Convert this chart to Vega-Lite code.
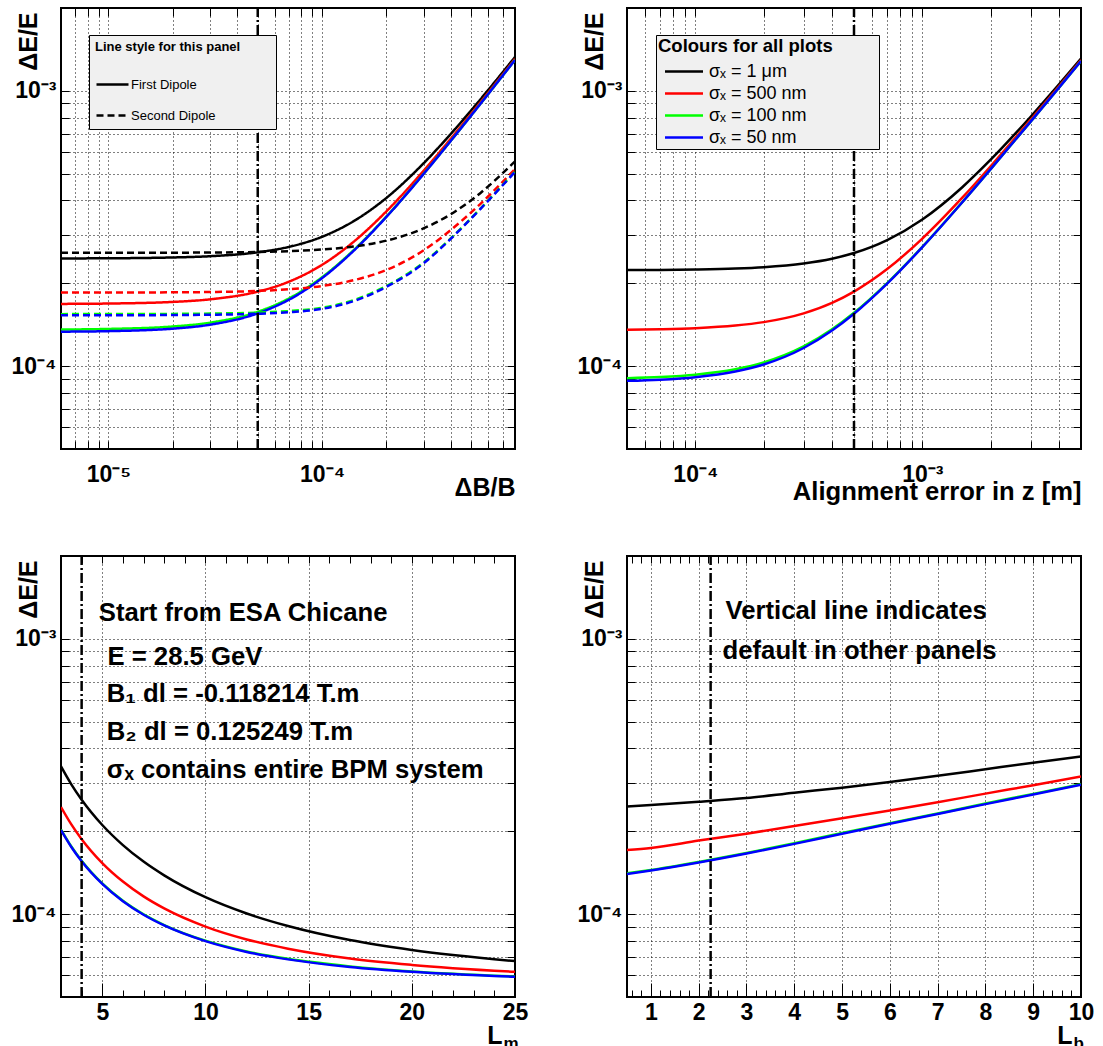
{
  "$schema": "https://vega.github.io/schema/vega-lite/v6.json",
  "background": "white",
  "padding": {"left": 10, "top": 5, "right": 0, "bottom": 0},
  "config": {
    "font": "Liberation Sans",
    "view": {"stroke": "black", "strokeWidth": 2},
    "axis": {"domain": false, "gridColor": "black", "gridDash": [1, 3], "gridOpacity": 1, "gridWidth": 1, "tickColor": "black", "tickWidth": 1, "labelFont": "Liberation Sans", "labelFontWeight": "bold", "labelFontSize": 23, "labelColor": "black", "titleFont": "Liberation Sans", "titleFontWeight": "bold", "titleFontSize": 25, "titleColor": "black", "labelOverlap": false, "labelFlush": false},
    "scale": {"nice": false},
    "line": {"strokeWidth": 2.5, "interpolate": "monotone"},
    "text": {"font": "Liberation Sans", "fontWeight": "bold", "fontSize": 25.7, "color": "black", "align": "left", "baseline": "middle"}
  },
  "columns": 2,
  "spacing": {"row": 107, "column": 112},
  "bounds": "flush",
  "resolve": {"scale": {"x": "independent", "y": "independent", "color": "independent", "strokeDash": "independent"}, "legend": {"color": "independent", "strokeDash": "independent"}},
  "concat": [
    {
      "width": 454, "height": 441,
      "resolve": {"axis": {"x": "independent", "y": "independent"}},
      "layer": [
        {
          "data": {"values": [
            {"x": 6e-6, "y": 2.462e-4, "c": "1 μm", "d": "First Dipole"},
            {"x": 1e-5, "y": 2.465e-4, "c": "1 μm", "d": "First Dipole"},
            {"x": 2e-5, "y": 2.482e-4, "c": "1 μm", "d": "First Dipole"},
            {"x": 3e-5, "y": 2.508e-4, "c": "1 μm", "d": "First Dipole"},
            {"x": 5e-5, "y": 2.592e-4, "c": "1 μm", "d": "First Dipole"},
            {"x": 7e-5, "y": 2.712e-4, "c": "1 μm", "d": "First Dipole"},
            {"x": 1e-4, "y": 2.951e-4, "c": "1 μm", "d": "First Dipole"},
            {"x": 1.4e-4, "y": 3.356e-4, "c": "1 μm", "d": "First Dipole"},
            {"x": 2e-4, "y": 4.084e-4, "c": "1 μm", "d": "First Dipole"},
            {"x": 3e-4, "y": 5.474e-4, "c": "1 μm", "d": "First Dipole"},
            {"x": 4e-4, "y": 6.969e-4, "c": "1 μm", "d": "First Dipole"},
            {"x": 5.5e-4, "y": 9.296e-4, "c": "1 μm", "d": "First Dipole"},
            {"x": 8e-4, "y": 1.327e-3, "c": "1 μm", "d": "First Dipole"},
            {"x": 6e-6, "y": 1.683e-4, "c": "500 nm", "d": "First Dipole"},
            {"x": 1e-5, "y": 1.688e-4, "c": "500 nm", "d": "First Dipole"},
            {"x": 2e-5, "y": 1.711e-4, "c": "500 nm", "d": "First Dipole"},
            {"x": 3e-5, "y": 1.749e-4, "c": "500 nm", "d": "First Dipole"},
            {"x": 5e-5, "y": 1.865e-4, "c": "500 nm", "d": "First Dipole"},
            {"x": 7e-5, "y": 2.027e-4, "c": "500 nm", "d": "First Dipole"},
            {"x": 1e-4, "y": 2.334e-4, "c": "500 nm", "d": "First Dipole"},
            {"x": 1.4e-4, "y": 2.823e-4, "c": "500 nm", "d": "First Dipole"},
            {"x": 2e-4, "y": 3.650e-4, "c": "500 nm", "d": "First Dipole"},
            {"x": 3e-4, "y": 5.142e-4, "c": "500 nm", "d": "First Dipole"},
            {"x": 4e-4, "y": 6.694e-4, "c": "500 nm", "d": "First Dipole"},
            {"x": 5.5e-4, "y": 9.067e-4, "c": "500 nm", "d": "First Dipole"},
            {"x": 8e-4, "y": 1.3068e-3, "c": "500 nm", "d": "First Dipole"},
            {"x": 6e-6, "y": 1.358e-4, "c": "100 nm", "d": "First Dipole"},
            {"x": 1e-5, "y": 1.365e-4, "c": "100 nm", "d": "First Dipole"},
            {"x": 2e-5, "y": 1.393e-4, "c": "100 nm", "d": "First Dipole"},
            {"x": 3e-5, "y": 1.439e-4, "c": "100 nm", "d": "First Dipole"},
            {"x": 5e-5, "y": 1.576e-4, "c": "100 nm", "d": "First Dipole"},
            {"x": 7e-5, "y": 1.762e-4, "c": "100 nm", "d": "First Dipole"},
            {"x": 1e-4, "y": 2.104e-4, "c": "100 nm", "d": "First Dipole"},
            {"x": 1.4e-4, "y": 2.630e-4, "c": "100 nm", "d": "First Dipole"},
            {"x": 2e-4, "y": 3.494e-4, "c": "100 nm", "d": "First Dipole"},
            {"x": 3e-4, "y": 5.017e-4, "c": "100 nm", "d": "First Dipole"},
            {"x": 4e-4, "y": 6.581e-4, "c": "100 nm", "d": "First Dipole"},
            {"x": 5.5e-4, "y": 8.958e-4, "c": "100 nm", "d": "First Dipole"},
            {"x": 8e-4, "y": 1.2951e-3, "c": "100 nm", "d": "First Dipole"},
            {"x": 6e-6, "y": 1.334e-4, "c": "50 nm", "d": "First Dipole"},
            {"x": 1e-5, "y": 1.340e-4, "c": "50 nm", "d": "First Dipole"},
            {"x": 2e-5, "y": 1.368e-4, "c": "50 nm", "d": "First Dipole"},
            {"x": 3e-5, "y": 1.415e-4, "c": "50 nm", "d": "First Dipole"},
            {"x": 5e-5, "y": 1.555e-4, "c": "50 nm", "d": "First Dipole"},
            {"x": 7e-5, "y": 1.743e-4, "c": "50 nm", "d": "First Dipole"},
            {"x": 1e-4, "y": 2.088e-4, "c": "50 nm", "d": "First Dipole"},
            {"x": 1.4e-4, "y": 2.617e-4, "c": "50 nm", "d": "First Dipole"},
            {"x": 2e-4, "y": 3.484e-4, "c": "50 nm", "d": "First Dipole"},
            {"x": 3e-4, "y": 5.010e-4, "c": "50 nm", "d": "First Dipole"},
            {"x": 4e-4, "y": 6.576e-4, "c": "50 nm", "d": "First Dipole"},
            {"x": 5.5e-4, "y": 8.954e-4, "c": "50 nm", "d": "First Dipole"},
            {"x": 8e-4, "y": 1.2949e-3, "c": "50 nm", "d": "First Dipole"},
            {"x": 6e-6, "y": 2.580e-4, "c": "1 μm", "d": "Second Dipole"},
            {"x": 1e-5, "y": 2.581e-4, "c": "1 μm", "d": "Second Dipole"},
            {"x": 2e-5, "y": 2.583e-4, "c": "1 μm", "d": "Second Dipole"},
            {"x": 3e-5, "y": 2.587e-4, "c": "1 μm", "d": "Second Dipole"},
            {"x": 5e-5, "y": 2.598e-4, "c": "1 μm", "d": "Second Dipole"},
            {"x": 7e-5, "y": 2.616e-4, "c": "1 μm", "d": "Second Dipole"},
            {"x": 1e-4, "y": 2.652e-4, "c": "1 μm", "d": "Second Dipole"},
            {"x": 1.4e-4, "y": 2.719e-4, "c": "1 μm", "d": "Second Dipole"},
            {"x": 2e-4, "y": 2.857e-4, "c": "1 μm", "d": "Second Dipole"},
            {"x": 3e-4, "y": 3.170e-4, "c": "1 μm", "d": "Second Dipole"},
            {"x": 4e-4, "y": 3.562e-4, "c": "1 μm", "d": "Second Dipole"},
            {"x": 5.5e-4, "y": 4.250e-4, "c": "1 μm", "d": "Second Dipole"},
            {"x": 8e-4, "y": 5.548e-4, "c": "1 μm", "d": "Second Dipole"},
            {"x": 6e-6, "y": 1.850e-4, "c": "500 nm", "d": "Second Dipole"},
            {"x": 1e-5, "y": 1.851e-4, "c": "500 nm", "d": "Second Dipole"},
            {"x": 2e-5, "y": 1.854e-4, "c": "500 nm", "d": "Second Dipole"},
            {"x": 3e-5, "y": 1.859e-4, "c": "500 nm", "d": "Second Dipole"},
            {"x": 5e-5, "y": 1.876e-4, "c": "500 nm", "d": "Second Dipole"},
            {"x": 7e-5, "y": 1.902e-4, "c": "500 nm", "d": "Second Dipole"},
            {"x": 1e-4, "y": 1.955e-4, "c": "500 nm", "d": "Second Dipole"},
            {"x": 1.4e-4, "y": 2.050e-4, "c": "500 nm", "d": "Second Dipole"},
            {"x": 2e-4, "y": 2.235e-4, "c": "500 nm", "d": "Second Dipole"},
            {"x": 3e-4, "y": 2.640e-4, "c": "500 nm", "d": "Second Dipole"},
            {"x": 4e-4, "y": 3.120e-4, "c": "500 nm", "d": "Second Dipole"},
            {"x": 5.5e-4, "y": 3.880e-4, "c": "500 nm", "d": "Second Dipole"},
            {"x": 8e-4, "y": 5.200e-4, "c": "500 nm", "d": "Second Dipole"},
            {"x": 6e-6, "y": 1.545e-4, "c": "100 nm", "d": "Second Dipole"},
            {"x": 1e-5, "y": 1.546e-4, "c": "100 nm", "d": "Second Dipole"},
            {"x": 2e-5, "y": 1.548e-4, "c": "100 nm", "d": "Second Dipole"},
            {"x": 3e-5, "y": 1.552e-4, "c": "100 nm", "d": "Second Dipole"},
            {"x": 5e-5, "y": 1.565e-4, "c": "100 nm", "d": "Second Dipole"},
            {"x": 7e-5, "y": 1.585e-4, "c": "100 nm", "d": "Second Dipole"},
            {"x": 1e-4, "y": 1.630e-4, "c": "100 nm", "d": "Second Dipole"},
            {"x": 1.4e-4, "y": 1.735e-4, "c": "100 nm", "d": "Second Dipole"},
            {"x": 2e-4, "y": 1.955e-4, "c": "100 nm", "d": "Second Dipole"},
            {"x": 3e-4, "y": 2.385e-4, "c": "100 nm", "d": "Second Dipole"},
            {"x": 4e-4, "y": 2.910e-4, "c": "100 nm", "d": "Second Dipole"},
            {"x": 5.5e-4, "y": 3.730e-4, "c": "100 nm", "d": "Second Dipole"},
            {"x": 8e-4, "y": 5.090e-4, "c": "100 nm", "d": "Second Dipole"},
            {"x": 6e-6, "y": 1.530e-4, "c": "50 nm", "d": "Second Dipole"},
            {"x": 1e-5, "y": 1.531e-4, "c": "50 nm", "d": "Second Dipole"},
            {"x": 2e-5, "y": 1.533e-4, "c": "50 nm", "d": "Second Dipole"},
            {"x": 3e-5, "y": 1.537e-4, "c": "50 nm", "d": "Second Dipole"},
            {"x": 5e-5, "y": 1.550e-4, "c": "50 nm", "d": "Second Dipole"},
            {"x": 7e-5, "y": 1.570e-4, "c": "50 nm", "d": "Second Dipole"},
            {"x": 1e-4, "y": 1.615e-4, "c": "50 nm", "d": "Second Dipole"},
            {"x": 1.4e-4, "y": 1.720e-4, "c": "50 nm", "d": "Second Dipole"},
            {"x": 2e-4, "y": 1.940e-4, "c": "50 nm", "d": "Second Dipole"},
            {"x": 3e-4, "y": 2.370e-4, "c": "50 nm", "d": "Second Dipole"},
            {"x": 4e-4, "y": 2.900e-4, "c": "50 nm", "d": "Second Dipole"},
            {"x": 5.5e-4, "y": 3.720e-4, "c": "50 nm", "d": "Second Dipole"},
            {"x": 8e-4, "y": 5.080e-4, "c": "50 nm", "d": "Second Dipole"}
          ]},
          "mark": {"type": "line", "clip": true},
          "encoding": {
            "x": {"field": "x", "type": "quantitative", "scale": {"type": "log", "domain": [6e-6, 8e-4], "nice": false},
              "axis": {"orient": "bottom", "values": [6e-6, 7e-6, 8e-6, 9e-6, 1e-5, 2e-5, 3e-5, 4e-5, 5e-5, 6e-5, 7e-5, 8e-5, 9e-5, 1e-4, 2e-4, 3e-4, 4e-4, 5e-4, 6e-4, 7e-4],
                "labelExpr": "datum.value == 1e-5 ? '10⁻⁵' : datum.value == 1e-4 ? '10⁻⁴' : ''",
                "grid": true, "tickSize": -8, "labelPadding": 22,
                "title": "ΔB/B", "titleX": 454, "titleY": 46, "titleAlign": "right", "titleBaseline": "alphabetic"}},
            "y": {"field": "y", "type": "quantitative", "scale": {"type": "log", "domain": [5e-5, 2e-3], "nice": false},
              "axis": {"orient": "left", "values": [6e-5, 7e-5, 8e-5, 9e-5, 1e-4, 2e-4, 3e-4, 4e-4, 5e-4, 6e-4, 7e-4, 8e-4, 9e-4, 1e-3],
                "labelExpr": "datum.value == 1e-3 ? '10⁻³' : datum.value == 1e-4 ? '10⁻⁴' : ''",
                "grid": true, "tickSize": -8, "labelPadding": 13,
                "title": "ΔE/E", "titleX": -33, "titleY": 4, "titleAngle": -90, "titleAlign": "right", "titleBaseline": "middle"}},
            "color": {"field": "c", "type": "nominal", "scale": {"domain": ["1 μm", "500 nm", "100 nm", "50 nm"], "range": ["#000000", "#ff0000", "#00ff00", "#0000ff"]}, "legend": null},
            "strokeDash": {"field": "d", "type": "nominal", "scale": {"domain": ["First Dipole", "Second Dipole"], "range": [[1, 0], [7, 4]]},
              "legend": {"title": "Line style for this panel", "orient": "none", "legendX": 28, "legendY": 27,
                "fillColor": "#f0f0f0", "strokeColor": "black", "padding": 6,
                "titleFont": "Liberation Sans", "titleFontWeight": "bold", "titleFontSize": 13, "titleColor": "black", "titlePadding": 21,
                "labelFont": "Liberation Sans", "labelFontSize": 13, "labelColor": "black", "labelLimit": 400,
                "labelExpr": "datum.label + '\u00a0\u00a0\u00a0\u00a0\u00a0\u00a0\u00a0\u00a0\u00a0\u00a0\u00a0\u00a0\u00a0\u00a0\u00a0\u200b'",
                "symbolType": "M-2,0H2", "symbolSize": 256, "symbolStrokeWidth": 2.5, "symbolStrokeColor": "black", "symbolFillColor": "transparent",
                "symbolOffset": 8, "labelOffset": 9, "rowPadding": 14,
                "encode": {"legend": {"update": {"strokeWidth": {"value": 1.5}}}}}}
          }
        },
        {
          "data": {"values": [{"xv": 5e-5}]},
          "mark": {"type": "rule", "strokeDash": [10, 3, 2, 3], "strokeWidth": 2.5, "color": "black"},
          "encoding": {
            "x": {"field": "xv", "type": "quantitative", "axis": {"orient": "top", "values": [6e-6, 7e-6, 8e-6, 9e-6, 1e-5, 2e-5, 3e-5, 4e-5, 5e-5, 6e-5, 7e-5, 8e-5, 9e-5, 1e-4, 2e-4, 3e-4, 4e-4, 5e-4, 6e-4, 7e-4], "labels": false, "grid": false, "tickSize": -8, "title": null}},
            "y": {"datum": 5e-5, "type": "quantitative", "axis": {"orient": "right", "values": [6e-5, 7e-5, 8e-5, 9e-5, 1e-4, 2e-4, 3e-4, 4e-4, 5e-4, 6e-4, 7e-4, 8e-4, 9e-4, 1e-3], "labels": false, "grid": false, "tickSize": -8, "title": null}},
            "y2": {"datum": 2e-3}
          }
        }
      ]
    },
    {
      "width": 454, "height": 441,
      "resolve": {"axis": {"x": "independent", "y": "independent"}},
      "layer": [
        {
          "data": {"values": [
            {"x": 5e-5, "y": 2.234e-4, "c": "1 μm"}, {"x": 7e-5, "y": 2.237e-4, "c": "1 μm"}, {"x": 1e-4, "y": 2.245e-4, "c": "1 μm"}, {"x": 1.5e-4, "y": 2.263e-4, "c": "1 μm"}, {"x": 2e-4, "y": 2.289e-4, "c": "1 μm"}, {"x": 3e-4, "y": 2.361e-4, "c": "1 μm"}, {"x": 4e-4, "y": 2.457e-4, "c": "1 μm"}, {"x": 5e-4, "y": 2.576e-4, "c": "1 μm"}, {"x": 7e-4, "y": 2.870e-4, "c": "1 μm"}, {"x": 1e-3, "y": 3.410e-4, "c": "1 μm"}, {"x": 1.5e-3, "y": 4.467e-4, "c": "1 μm"}, {"x": 2e-3, "y": 5.621e-4, "c": "1 μm"}, {"x": 3e-3, "y": 8.055e-4, "c": "1 μm"}, {"x": 4e-3, "y": 1.0558e-3, "c": "1 μm"}, {"x": 5e-3, "y": 1.3091e-3, "c": "1 μm"},
            {"x": 5e-5, "y": 1.356e-4, "c": "500 nm"}, {"x": 7e-5, "y": 1.362e-4, "c": "500 nm"}, {"x": 1e-4, "y": 1.374e-4, "c": "500 nm"}, {"x": 1.5e-4, "y": 1.404e-4, "c": "500 nm"}, {"x": 2e-4, "y": 1.445e-4, "c": "500 nm"}, {"x": 3e-4, "y": 1.555e-4, "c": "500 nm"}, {"x": 4e-4, "y": 1.698e-4, "c": "500 nm"}, {"x": 5e-4, "y": 1.866e-4, "c": "500 nm"}, {"x": 7e-4, "y": 2.252e-4, "c": "500 nm"}, {"x": 1e-3, "y": 2.907e-4, "c": "500 nm"}, {"x": 1.5e-3, "y": 4.092e-4, "c": "500 nm"}, {"x": 2e-3, "y": 5.324e-4, "c": "500 nm"}, {"x": 3e-3, "y": 7.842e-4, "c": "500 nm"}, {"x": 4e-3, "y": 1.0388e-3, "c": "500 nm"}, {"x": 5e-3, "y": 1.2946e-3, "c": "500 nm"},
            {"x": 5e-5, "y": 9.04e-5, "c": "100 nm"}, {"x": 7e-5, "y": 9.13e-5, "c": "100 nm"}, {"x": 1e-4, "y": 9.31e-5, "c": "100 nm"}, {"x": 1.5e-4, "y": 9.74e-5, "c": "100 nm"}, {"x": 2e-4, "y": 1.031e-4, "c": "100 nm"}, {"x": 3e-4, "y": 1.179e-4, "c": "100 nm"}, {"x": 4e-4, "y": 1.360e-4, "c": "100 nm"}, {"x": 5e-4, "y": 1.562e-4, "c": "100 nm"}, {"x": 7e-4, "y": 2.003e-4, "c": "100 nm"}, {"x": 1e-3, "y": 2.712e-4, "c": "100 nm"}, {"x": 1.5e-3, "y": 3.943e-4, "c": "100 nm"}, {"x": 2e-3, "y": 5.198e-4, "c": "100 nm"}, {"x": 3e-3, "y": 7.732e-4, "c": "100 nm"}, {"x": 4e-3, "y": 1.0279e-3, "c": "100 nm"}, {"x": 5e-3, "y": 1.2831e-3, "c": "100 nm"},
            {"x": 5e-5, "y": 8.84e-5, "c": "50 nm"}, {"x": 7e-5, "y": 8.93e-5, "c": "50 nm"}, {"x": 1e-4, "y": 9.12e-5, "c": "50 nm"}, {"x": 1.5e-4, "y": 9.56e-5, "c": "50 nm"}, {"x": 2e-4, "y": 1.014e-4, "c": "50 nm"}, {"x": 3e-4, "y": 1.164e-4, "c": "50 nm"}, {"x": 4e-4, "y": 1.347e-4, "c": "50 nm"}, {"x": 5e-4, "y": 1.550e-4, "c": "50 nm"}, {"x": 7e-4, "y": 1.994e-4, "c": "50 nm"}, {"x": 1e-3, "y": 2.705e-4, "c": "50 nm"}, {"x": 1.5e-3, "y": 3.938e-4, "c": "50 nm"}, {"x": 2e-3, "y": 5.194e-4, "c": "50 nm"}, {"x": 3e-3, "y": 7.730e-4, "c": "50 nm"}, {"x": 4e-3, "y": 1.0277e-3, "c": "50 nm"}, {"x": 5e-3, "y": 1.2830e-3, "c": "50 nm"}
          ]},
          "mark": {"type": "line", "clip": true},
          "encoding": {
            "x": {"field": "x", "type": "quantitative", "scale": {"type": "log", "domain": [5e-5, 5e-3], "nice": false},
              "axis": {"orient": "bottom", "values": [6e-5, 7e-5, 8e-5, 9e-5, 1e-4, 2e-4, 3e-4, 4e-4, 5e-4, 6e-4, 7e-4, 8e-4, 9e-4, 1e-3, 2e-3, 3e-3, 4e-3],
                "labelExpr": "datum.value == 1e-4 ? '10⁻⁴' : datum.value == 1e-3 ? '10⁻³' : ''",
                "grid": true, "tickSize": -8, "labelPadding": 22,
                "title": "Alignment error in z [m]", "titleX": 454, "titleY": 50, "titleAlign": "right", "titleBaseline": "alphabetic", "titleFontSize": 25.6}},
            "y": {"field": "y", "type": "quantitative", "scale": {"type": "log", "domain": [5e-5, 2e-3], "nice": false},
              "axis": {"orient": "left", "values": [6e-5, 7e-5, 8e-5, 9e-5, 1e-4, 2e-4, 3e-4, 4e-4, 5e-4, 6e-4, 7e-4, 8e-4, 9e-4, 1e-3],
                "labelExpr": "datum.value == 1e-3 ? '10⁻³' : datum.value == 1e-4 ? '10⁻⁴' : ''",
                "grid": true, "tickSize": -8, "labelPadding": 13,
                "title": "ΔE/E", "titleX": -33, "titleY": 4, "titleAngle": -90, "titleAlign": "right", "titleBaseline": "middle"}},
            "color": {"field": "c", "type": "nominal", "scale": {"domain": ["1 μm", "500 nm", "100 nm", "50 nm"], "range": ["#000000", "#ff0000", "#00ff00", "#0000ff"]},
              "legend": {"title": "Colours for all plots", "orient": "none", "legendX": 29, "legendY": 27,
                "fillColor": "#f0f0f0", "strokeColor": "black", "padding": 2,
                "titleFont": "Liberation Sans", "titleFontWeight": "bold", "titleFontSize": 18.5, "titleColor": "black", "titlePadding": 5,
                "labelFont": "Liberation Sans", "labelFontSize": 18, "labelColor": "black", "labelLimit": 400,
                "labelExpr": "'σₓ = ' + datum.label + '\u00a0\u00a0\u00a0\u00a0\u00a0\u00a0\u00a0\u00a0\u00a0\u00a0\u00a0\u00a0\u00a0\u00a0\u200b'",
                "symbolType": "M-2,0H2", "symbolSize": 361, "symbolStrokeWidth": 3, "symbolFillColor": "transparent",
                "symbolOffset": 15, "labelOffset": 14, "rowPadding": 2,
                "encode": {"legend": {"update": {"strokeWidth": {"value": 1.5}}}}}}
          }
        },
        {
          "data": {"values": [{"xv": 5e-4}]},
          "mark": {"type": "rule", "strokeDash": [10, 3, 2, 3], "strokeWidth": 2.5, "color": "black"},
          "encoding": {
            "x": {"field": "xv", "type": "quantitative", "axis": {"orient": "top", "values": [6e-5, 7e-5, 8e-5, 9e-5, 1e-4, 2e-4, 3e-4, 4e-4, 5e-4, 6e-4, 7e-4, 8e-4, 9e-4, 1e-3, 2e-3, 3e-3, 4e-3], "labels": false, "grid": false, "tickSize": -8, "title": null}},
            "y": {"datum": 5e-5, "type": "quantitative", "axis": {"orient": "right", "values": [6e-5, 7e-5, 8e-5, 9e-5, 1e-4, 2e-4, 3e-4, 4e-4, 5e-4, 6e-4, 7e-4, 8e-4, 9e-4, 1e-3], "labels": false, "grid": false, "tickSize": -8, "title": null}},
            "y2": {"datum": 2e-3}
          }
        }
      ]
    },
    {
      "width": 454, "height": 441,
      "resolve": {"axis": {"x": "independent", "y": "independent"}},
      "layer": [
        {
          "data": {"values": [
            {"x": 3, "y": 3.440e-4, "c": "1 μm"}, {"x": 3.5, "y": 2.962e-4, "c": "1 μm"}, {"x": 4, "y": 2.604e-4, "c": "1 μm"}, {"x": 5, "y": 2.108e-4, "c": "1 μm"}, {"x": 6, "y": 1.782e-4, "c": "1 μm"}, {"x": 7, "y": 1.552e-4, "c": "1 μm"}, {"x": 8, "y": 1.383e-4, "c": "1 μm"}, {"x": 10, "y": 1.152e-4, "c": "1 μm"}, {"x": 12, "y": 1.005e-4, "c": "1 μm"}, {"x": 14, "y": 9.05e-5, "c": "1 μm"}, {"x": 17, "y": 8.05e-5, "c": "1 μm"}, {"x": 20, "y": 7.41e-5, "c": "1 μm"}, {"x": 25, "y": 6.75e-5, "c": "1 μm"},
            {"x": 3, "y": 2.449e-4, "c": "500 nm"}, {"x": 3.5, "y": 2.118e-4, "c": "500 nm"}, {"x": 4, "y": 1.872e-4, "c": "500 nm"}, {"x": 5, "y": 1.533e-4, "c": "500 nm"}, {"x": 6, "y": 1.313e-4, "c": "500 nm"}, {"x": 7, "y": 1.160e-4, "c": "500 nm"}, {"x": 8, "y": 1.049e-4, "c": "500 nm"}, {"x": 10, "y": 9.01e-5, "c": "500 nm"}, {"x": 12, "y": 8.09e-5, "c": "500 nm"}, {"x": 14, "y": 7.49e-5, "c": "500 nm"}, {"x": 17, "y": 6.90e-5, "c": "500 nm"}, {"x": 20, "y": 6.54e-5, "c": "500 nm"}, {"x": 25, "y": 6.17e-5, "c": "500 nm"},
            {"x": 3, "y": 2.028e-4, "c": "100 nm"}, {"x": 3.5, "y": 1.761e-4, "c": "100 nm"}, {"x": 4, "y": 1.563e-4, "c": "100 nm"}, {"x": 5, "y": 1.293e-4, "c": "100 nm"}, {"x": 6, "y": 1.118e-4, "c": "100 nm"}, {"x": 7, "y": 9.99e-5, "c": "100 nm"}, {"x": 8, "y": 9.13e-5, "c": "100 nm"}, {"x": 10, "y": 8.01e-5, "c": "100 nm"}, {"x": 12, "y": 7.32e-5, "c": "100 nm"}, {"x": 14, "y": 6.88e-5, "c": "100 nm"}, {"x": 17, "y": 6.46e-5, "c": "100 nm"}, {"x": 20, "y": 6.19e-5, "c": "100 nm"}, {"x": 25, "y": 5.94e-5, "c": "100 nm"},
            {"x": 3, "y": 2.020e-4, "c": "50 nm"}, {"x": 3.5, "y": 1.754e-4, "c": "50 nm"}, {"x": 4, "y": 1.557e-4, "c": "50 nm"}, {"x": 5, "y": 1.288e-4, "c": "50 nm"}, {"x": 6, "y": 1.114e-4, "c": "50 nm"}, {"x": 7, "y": 9.95e-5, "c": "50 nm"}, {"x": 8, "y": 9.10e-5, "c": "50 nm"}, {"x": 10, "y": 7.98e-5, "c": "50 nm"}, {"x": 12, "y": 7.29e-5, "c": "50 nm"}, {"x": 14, "y": 6.85e-5, "c": "50 nm"}, {"x": 17, "y": 6.43e-5, "c": "50 nm"}, {"x": 20, "y": 6.17e-5, "c": "50 nm"}, {"x": 25, "y": 5.92e-5, "c": "50 nm"}
          ]},
          "mark": {"type": "line", "clip": true},
          "encoding": {
            "x": {"field": "x", "type": "quantitative", "scale": {"domain": [3, 25], "nice": false, "zero": false},
              "axis": {"orient": "bottom", "values": [5, 10, 15, 20, 25], "grid": true, "tickSize": -14, "labelPadding": 18,
                "title": "L", "titleX": 441, "titleY": 46, "titleAlign": "right", "titleBaseline": "alphabetic"}},
            "y": {"field": "y", "type": "quantitative", "scale": {"type": "log", "domain": [5e-5, 2e-3], "nice": false},
              "axis": {"orient": "left", "values": [6e-5, 7e-5, 8e-5, 9e-5, 1e-4, 2e-4, 3e-4, 4e-4, 5e-4, 6e-4, 7e-4, 8e-4, 9e-4, 1e-3],
                "labelExpr": "datum.value == 1e-3 ? '10⁻³' : datum.value == 1e-4 ? '10⁻⁴' : ''",
                "grid": true, "tickSize": -8, "labelPadding": 13,
                "title": "ΔE/E", "titleX": -33, "titleY": 4, "titleAngle": -90, "titleAlign": "right", "titleBaseline": "middle"}},
            "color": {"field": "c", "type": "nominal", "scale": {"domain": ["1 μm", "500 nm", "100 nm", "50 nm"], "range": ["#000000", "#ff0000", "#00ff00", "#0000ff"]}, "legend": null}
          }
        },
        {
          "data": {"values": [{"xv": 4}]},
          "mark": {"type": "rule", "strokeDash": [10, 3, 2, 3], "strokeWidth": 2.5, "color": "black"},
          "encoding": {
            "x": {"field": "xv", "type": "quantitative", "axis": {"orient": "top", "values": [4, 5, 6, 7, 8, 9, 10, 11, 12, 13, 14, 15, 16, 17, 18, 19, 20, 21, 22, 23, 24], "labels": false, "grid": false, "tickSize": -7, "title": null}},
            "y": {"datum": 5e-5, "type": "quantitative", "axis": {"orient": "right", "values": [6e-5, 7e-5, 8e-5, 9e-5, 1e-4, 2e-4, 3e-4, 4e-4, 5e-4, 6e-4, 7e-4, 8e-4, 9e-4, 1e-3], "labels": false, "grid": false, "tickSize": -8, "title": null}},
            "y2": {"datum": 2e-3}
          }
        },
        {
          "data": {"values": [
            {"tx": 4.83, "ty": 1.24e-3, "label": "Start from ESA Chicane"},
            {"tx": 5.25, "ty": 8.57e-4, "label": "E = 28.5 GeV"},
            {"tx": 5.22, "ty": 6.3e-4, "label": "B₁ dl = -0.118214 T.m"},
            {"tx": 5.22, "ty": 4.59e-4, "label": "B₂ dl = 0.125249 T.m"},
            {"tx": 5.22, "ty": 3.34e-4, "label": "σₓ contains entire BPM system"}
          ]},
          "mark": {"type": "text"},
          "encoding": {
            "x": {"field": "tx", "type": "quantitative", "axis": {"orient": "bottom", "values": [4, 5, 6, 7, 8, 9, 10, 11, 12, 13, 14, 15, 16, 17, 18, 19, 20, 21, 22, 23, 24], "labels": false, "grid": false, "tickSize": -7,
              "title": "m", "titleX": 442, "titleY": 51, "titleAlign": "left", "titleBaseline": "alphabetic", "titleFontSize": 17}},
            "y": {"field": "ty", "type": "quantitative", "axis": null},
            "text": {"field": "label"}
          }
        }
      ]
    },
    {
      "width": 454, "height": 441,
      "resolve": {"axis": {"x": "independent", "y": "independent"}},
      "layer": [
        {
          "data": {"values": [
            {"x": 0.5, "y": 2.46e-4, "c": "1 μm"}, {"x": 1, "y": 2.49e-4, "c": "1 μm"}, {"x": 2, "y": 2.56e-4, "c": "1 μm"}, {"x": 3, "y": 2.64e-4, "c": "1 μm"}, {"x": 4, "y": 2.76e-4, "c": "1 μm"}, {"x": 5, "y": 2.88e-4, "c": "1 μm"}, {"x": 6, "y": 3.02e-4, "c": "1 μm"}, {"x": 7, "y": 3.18e-4, "c": "1 μm"}, {"x": 8, "y": 3.36e-4, "c": "1 μm"}, {"x": 9, "y": 3.55e-4, "c": "1 μm"}, {"x": 10, "y": 3.74e-4, "c": "1 μm"},
            {"x": 0.5, "y": 1.71e-4, "c": "500 nm"}, {"x": 1, "y": 1.74e-4, "c": "500 nm"}, {"x": 2, "y": 1.85e-4, "c": "500 nm"}, {"x": 3, "y": 1.96e-4, "c": "500 nm"}, {"x": 4, "y": 2.09e-4, "c": "500 nm"}, {"x": 5, "y": 2.23e-4, "c": "500 nm"}, {"x": 6, "y": 2.38e-4, "c": "500 nm"}, {"x": 7, "y": 2.55e-4, "c": "500 nm"}, {"x": 8, "y": 2.74e-4, "c": "500 nm"}, {"x": 9, "y": 2.94e-4, "c": "500 nm"}, {"x": 10, "y": 3.16e-4, "c": "500 nm"},
            {"x": 0.5, "y": 1.407e-4, "c": "100 nm"}, {"x": 1, "y": 1.447e-4, "c": "100 nm"}, {"x": 2, "y": 1.548e-4, "c": "100 nm"}, {"x": 3, "y": 1.668e-4, "c": "100 nm"}, {"x": 4, "y": 1.809e-4, "c": "100 nm"}, {"x": 5, "y": 1.970e-4, "c": "100 nm"}, {"x": 6, "y": 2.141e-4, "c": "100 nm"}, {"x": 7, "y": 2.322e-4, "c": "100 nm"}, {"x": 8, "y": 2.523e-4, "c": "100 nm"}, {"x": 9, "y": 2.734e-4, "c": "100 nm"}, {"x": 10, "y": 2.965e-4, "c": "100 nm"},
            {"x": 0.5, "y": 1.40e-4, "c": "50 nm"}, {"x": 1, "y": 1.44e-4, "c": "50 nm"}, {"x": 2, "y": 1.54e-4, "c": "50 nm"}, {"x": 3, "y": 1.66e-4, "c": "50 nm"}, {"x": 4, "y": 1.80e-4, "c": "50 nm"}, {"x": 5, "y": 1.96e-4, "c": "50 nm"}, {"x": 6, "y": 2.13e-4, "c": "50 nm"}, {"x": 7, "y": 2.31e-4, "c": "50 nm"}, {"x": 8, "y": 2.51e-4, "c": "50 nm"}, {"x": 9, "y": 2.72e-4, "c": "50 nm"}, {"x": 10, "y": 2.95e-4, "c": "50 nm"}
          ]},
          "mark": {"type": "line", "clip": true},
          "encoding": {
            "x": {"field": "x", "type": "quantitative", "scale": {"domain": [0.5, 10], "nice": false, "zero": false},
              "axis": {"orient": "bottom", "values": [1, 2, 3, 4, 5, 6, 7, 8, 9, 10], "grid": true, "tickSize": -14, "labelPadding": 18,
                "title": "L", "titleX": 445, "titleY": 46, "titleAlign": "right", "titleBaseline": "alphabetic"}},
            "y": {"field": "y", "type": "quantitative", "scale": {"type": "log", "domain": [5e-5, 2e-3], "nice": false},
              "axis": {"orient": "left", "values": [6e-5, 7e-5, 8e-5, 9e-5, 1e-4, 2e-4, 3e-4, 4e-4, 5e-4, 6e-4, 7e-4, 8e-4, 9e-4, 1e-3],
                "labelExpr": "datum.value == 1e-3 ? '10⁻³' : datum.value == 1e-4 ? '10⁻⁴' : ''",
                "grid": true, "tickSize": -8, "labelPadding": 13,
                "title": "ΔE/E", "titleX": -33, "titleY": 4, "titleAngle": -90, "titleAlign": "right", "titleBaseline": "middle"}},
            "color": {"field": "c", "type": "nominal", "scale": {"domain": ["1 μm", "500 nm", "100 nm", "50 nm"], "range": ["#000000", "#ff0000", "#00ff00", "#0000ff"]}, "legend": null}
          }
        },
        {
          "data": {"values": [{"xv": 2.25}]},
          "mark": {"type": "rule", "strokeDash": [10, 3, 2, 3], "strokeWidth": 2.5, "color": "black"},
          "encoding": {
            "x": {"field": "xv", "type": "quantitative", "axis": {"orient": "top", "values": [0.6, 0.8, 1, 1.2, 1.4, 1.6, 1.8, 2, 2.2, 2.4, 2.6, 2.8, 3, 3.2, 3.4, 3.6, 3.8, 4, 4.2, 4.4, 4.6, 4.8, 5, 5.2, 5.4, 5.6, 5.8, 6, 6.2, 6.4, 6.6, 6.8, 7, 7.2, 7.4, 7.6, 7.8, 8, 8.2, 8.4, 8.6, 8.8, 9, 9.2, 9.4, 9.6, 9.8], "labels": false, "grid": false, "tickSize": -7, "title": null}},
            "y": {"datum": 5e-5, "type": "quantitative", "axis": {"orient": "right", "values": [6e-5, 7e-5, 8e-5, 9e-5, 1e-4, 2e-4, 3e-4, 4e-4, 5e-4, 6e-4, 7e-4, 8e-4, 9e-4, 1e-3], "labels": false, "grid": false, "tickSize": -8, "title": null}},
            "y2": {"datum": 2e-3}
          }
        },
        {
          "data": {"values": [
            {"tx": 2.56, "ty": 1.26e-3, "label": "Vertical line indicates"},
            {"tx": 2.50, "ty": 9.0e-4, "label": "default in other panels"}
          ]},
          "mark": {"type": "text"},
          "encoding": {
            "x": {"field": "tx", "type": "quantitative", "axis": {"orient": "bottom", "values": [0.6, 0.8, 1, 1.2, 1.4, 1.6, 1.8, 2, 2.2, 2.4, 2.6, 2.8, 3, 3.2, 3.4, 3.6, 3.8, 4, 4.2, 4.4, 4.6, 4.8, 5, 5.2, 5.4, 5.6, 5.8, 6, 6.2, 6.4, 6.6, 6.8, 7, 7.2, 7.4, 7.6, 7.8, 8, 8.2, 8.4, 8.6, 8.8, 9, 9.2, 9.4, 9.6, 9.8], "labels": false, "grid": false, "tickSize": -7,
              "title": "b", "titleX": 446, "titleY": 51, "titleAlign": "left", "titleBaseline": "alphabetic", "titleFontSize": 17}},
            "y": {"field": "ty", "type": "quantitative", "axis": null},
            "text": {"field": "label"}
          }
        }
      ]
    }
  ]
}
